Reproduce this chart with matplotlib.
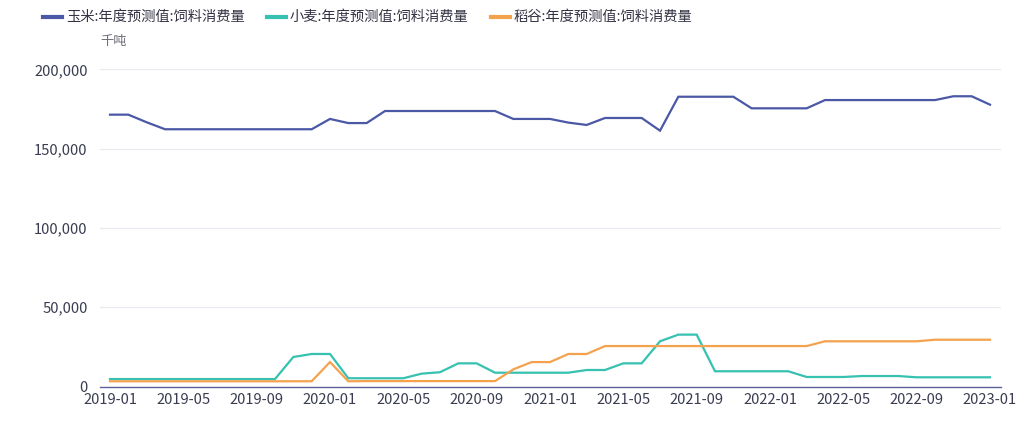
import matplotlib
matplotlib.use("Agg")
import matplotlib.pyplot as plt
from matplotlib.lines import Line2D
from matplotlib.ticker import FuncFormatter, FixedLocator

plt.rcParams['font.family'] = ['Noto Sans CJK SC', 'DejaVu Sans']

# ---- data ----
months = [f"{y}-{m:02d}" for y in range(2019, 2023) for m in range(1, 13)] + ["2023-01"]

corn = [171400, 171400, 166600, 162200, 162200, 162200, 162200, 162200, 162200, 162200,
        162200, 162200, 168700, 166100, 166100, 173700, 173700, 173700, 173700, 173700,
        173700, 173700, 168700, 168700, 168700, 166400, 164900, 169300, 169300, 169300,
        161300, 182700, 182700, 182700, 182700, 175400, 175400, 175400, 175400, 180600,
        180600, 180600, 180600, 180600, 180600, 180600, 183000, 183000, 177700]

wheat = [4700, 4700, 4700, 4700, 4700, 4700, 4700, 4700, 4700, 4700,
         18600, 20500, 20500, 5200, 5200, 5200, 5200, 8100, 9000, 14600,
         14600, 8700, 8700, 8700, 8700, 8700, 10400, 10400, 14600, 14600,
         28500, 32700, 32700, 9600, 9600, 9600, 9600, 9600, 6000, 6000,
         6000, 6600, 6600, 6600, 5800, 5800, 5800, 5800, 5800]

rice = [3300, 3300, 3300, 3300, 3300, 3300, 3300, 3300, 3300, 3300,
        3300, 3300, 15400, 3300, 3400, 3400, 3400, 3400, 3400, 3400,
        3400, 3400, 10800, 15400, 15400, 20500, 20500, 25500, 25500, 25500,
        25500, 25500, 25500, 25500, 25500, 25500, 25500, 25500, 25500, 28500,
        28500, 28500, 28500, 28500, 28500, 29500, 29500, 29500, 29500]

series_names = ["玉米:年度预测值:饲料消费量", "小麦:年度预测值:饲料消费量", "稻谷:年度预测值:饲料消费量"]
colors = ["#4a58a5", "#36c1b1", "#f4a24e"]
yticks = [0, 50000, 100000, 150000, 200000]
unit = "千吨"

# ---- figure ----
W, H = 1035, 421
fig = plt.figure(figsize=(W / 100, H / 100), dpi=100)
left, right, top, bottom = 100, 1001, 69.3, 386.5
ax = fig.add_axes([left / W, 1 - bottom / H, (right - left) / W, (bottom - top) / H])

x = list(range(len(months)))
for vals, c in zip([corn, wheat, rice], colors):
    ax.plot(x, vals, color=c, lw=1.6, solid_joinstyle='miter', zorder=3)

ax.set_ylim(0, 200000)
ax.set_xlim(-0.545, 48.6)
ax.yaxis.set_major_locator(FixedLocator(yticks))
ax.yaxis.set_major_formatter(FuncFormatter(lambda v, p: f"{int(v):,}"))
xt = list(range(0, len(months), 4))
ax.set_xticks(xt)
ax.set_xticklabels([months[i] for i in xt])

ax.grid(axis='y', color='#e8e9f0', lw=0.8, zorder=0)
for s in ['top', 'right', 'left']:
    ax.spines[s].set_visible(False)
ax.spines['bottom'].set_color('#5a6399')
ax.spines['bottom'].set_linewidth(1.0)
ax.tick_params(axis='both', length=0, labelsize=10.6, labelcolor='#3a3d52')
ax.tick_params(axis='y', pad=9)
ax.tick_params(axis='x', pad=4.5)

# legend (manual)
leg_y = 1 - 17 / H
starts = [43, 267, 491]
for name, c, sx in zip(series_names, colors, starts):
    fig.add_artist(Line2D([sx / W, (sx + 19) / W], [leg_y, leg_y], color=c, lw=3,
                          transform=fig.transFigure))
    fig.text((sx + 23) / W, leg_y, name, fontsize=10.3, color='#333344', va='center', ha='left')

fig.text(100 / W, 1 - 41 / H, unit, fontsize=9.5, color='#6e6e78', va='center', ha='left')

fig.savefig("out.png", dpi=100)
